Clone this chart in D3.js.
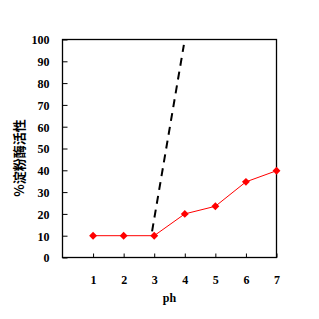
<!DOCTYPE html>
<html>
<head>
<meta charset="utf-8">
<script src="https://cdn.jsdelivr.net/npm/d3@7"></script>
<style>
body { margin: 0; background: #fff; }
text { font-family: "Liberation Serif", serif; font-weight: bold; }
</style>
</head>
<body>
<svg width="319" height="319"></svg>
<script>
const phValues = [1, 2, 3, 4, 5, 6, 7];
const activity = [10, 10, 10, 20, 23.5, 34.7, 39.8];
const dashX = [2.93, 3.97];
const dashY = [12, 97.5];
const yTicks = [0, 10, 20, 30, 40, 50, 60, 70, 80, 90, 100];
const xTicks = [1, 2, 3, 4, 5, 6, 7];

const svg = d3.select("svg");
const margin = {top: 39.5, right: 42.5, bottom: 61.5, left: 62.5};
const width = +svg.attr("width");
const height = +svg.attr("height");
const innerWidth = width - margin.left - margin.right;
const innerHeight = height - margin.top - margin.bottom;

const x = d3.scaleLinear().domain([0, 7]).range([0, innerWidth]);
const y = d3.scaleLinear().domain([0, 100]).range([innerHeight, 0]);

const g = svg.append("g")
  .attr("transform", `translate(${margin.left}, ${margin.top})`);

// frame
g.append("rect")
  .attr("width", innerWidth)
  .attr("height", innerHeight)
  .attr("fill", "none")
  .attr("stroke", "black")
  .attr("stroke-width", 1.3);

const yAxis = d3.axisLeft(y).tickValues(yTicks).tickSizeInner(-5).tickSizeOuter(0).tickPadding(13);
const yg = g.append("g").call(yAxis);
yg.select(".domain").remove();
yg.selectAll("text").attr("font-size", 12).attr("dy", "0.36em");

const xAxis = d3.axisBottom(x).tickValues(xTicks).tickFormat(d3.format("d"))
  .tickSizeInner(-4).tickSizeOuter(0).tickPadding(18);
const xg = g.append("g").attr("transform", `translate(0, ${innerHeight})`).call(xAxis);
xg.select(".domain").remove();
xg.selectAll("text").attr("font-size", 12);

// dashed line
const dashData = dashX.map((d, i) => ({x: d, y: dashY[i]}));
g.append("path")
  .attr("d", d3.line().x(d => x(d.x)).y(d => y(d.y))(dashData))
  .attr("fill", "none")
  .attr("stroke", "black")
  .attr("stroke-width", 2)
  .attr("stroke-dasharray", "8,6");

// red series
const data = phValues.map((d, i) => ({x: d, y: activity[i]}));
g.append("path")
  .attr("d", d3.line().x(d => x(d.x)).y(d => y(d.y))(data))
  .attr("fill", "none")
  .attr("stroke", "red")
  .attr("stroke-width", 1);

g.selectAll(".pt").data(data).enter().append("path")
  .attr("class", "pt")
  .attr("transform", d => `translate(${x(d.x)}, ${y(d.y)})`)
  .attr("d", d3.symbol(d3.symbolDiamond2, 40)())
  .attr("fill", "red");

svg.append("text")
  .attr("x", margin.left + innerWidth / 2)
  .attr("y", 302)
  .attr("text-anchor", "middle")
  .attr("font-size", 12)
  .text("ph");

svg.append("text")
  .attr("transform", "translate(24, 158) rotate(-90)")
  .attr("text-anchor", "middle")
  .attr("font-size", 13)
  .style("font-family", "'Noto Sans CJK SC', sans-serif")
  .text("%淀粉酶活性");
</script>
</body>
</html>
